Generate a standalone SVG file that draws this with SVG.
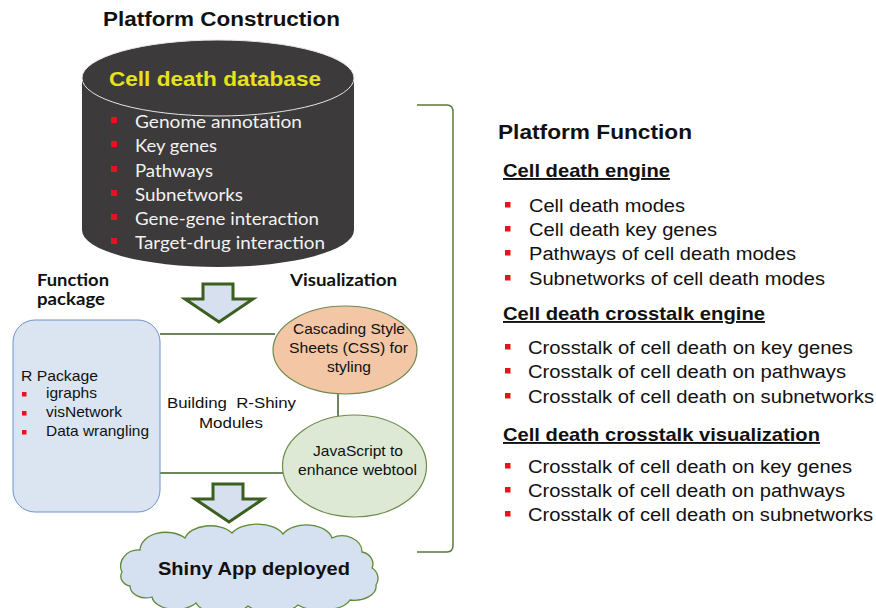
<svg xmlns="http://www.w3.org/2000/svg" width="876" height="608" viewBox="0 0 876 608">
<style>
.ar{font-family:"Liberation Sans",Arial,sans-serif;fill:#111}
.b{font-weight:bold}
.cal{font-family:Lato,"Open Sans",sans-serif}
.ci{font-family:Lato,"Open Sans",sans-serif;font-size:17.5px;fill:#f2f2f2}
.ri{font-family:"Liberation Sans",Arial,sans-serif;font-size:18px;fill:#111}
.rh{font-family:"Liberation Sans",Arial,sans-serif;font-size:19px;font-weight:bold;fill:#111;text-decoration:underline}
.sm{font-family:"Liberation Sans",Arial,sans-serif;font-size:15px;fill:#111}
.bul{fill:#e3141c}
.conn{stroke:#3e5e2a;stroke-width:1.5;fill:none}
.arrow{fill:#d6e0ee;stroke:#3a5f1f;stroke-width:3;stroke-linejoin:miter}
</style>
<rect width="876" height="608" fill="#ffffff"/>

<text class="ar b" x="103" y="26" font-size="19.5" textLength="237" lengthAdjust="spacingAndGlyphs">Platform Construction</text>

<g id="database">
  <path d="M82,78 L82,230 A136,37 0 0 0 354,230 L354,78 Z" fill="#3c3a3a"/>
  <ellipse cx="218" cy="78" rx="136" ry="38" fill="#3c3a3a" stroke="#e6e6e6" stroke-width="1"/>
  <text class="ar b" x="109" y="86" font-size="19.5" fill="#e5e31e" style="fill:#e5e31e" textLength="212" lengthAdjust="spacingAndGlyphs">Cell death database</text>
  <rect class="bul" x="111" y="117" width="6" height="6"/>
  <text class="ci" x="135" y="128" textLength="167" lengthAdjust="spacingAndGlyphs">Genome annotation</text>
  <rect class="bul" x="111" y="141" width="6" height="6"/>
  <text class="ci" x="135" y="152" textLength="82" lengthAdjust="spacingAndGlyphs">Key genes</text>
  <rect class="bul" x="111" y="166" width="6" height="6"/>
  <text class="ci" x="135" y="177" textLength="78" lengthAdjust="spacingAndGlyphs">Pathways</text>
  <rect class="bul" x="111" y="190" width="6" height="6"/>
  <text class="ci" x="135" y="201" textLength="108" lengthAdjust="spacingAndGlyphs">Subnetworks</text>
  <rect class="bul" x="111" y="214" width="6" height="6"/>
  <text class="ci" x="135" y="225" textLength="184" lengthAdjust="spacingAndGlyphs">Gene-gene interaction</text>
  <rect class="bul" x="111" y="238" width="6" height="6"/>
  <text class="ci" x="135" y="249" textLength="190" lengthAdjust="spacingAndGlyphs">Target-drug interaction</text>
</g>

<g id="labels">
  <text class="cal b" x="37" y="286" font-size="17.5" fill="#111" textLength="72" lengthAdjust="spacingAndGlyphs">Function</text>
  <text class="cal b" x="37" y="305" font-size="17.5" fill="#111" textLength="68" lengthAdjust="spacingAndGlyphs">package</text>
  <text class="cal b" x="290" y="286" font-size="17.5" fill="#111" textLength="107" lengthAdjust="spacingAndGlyphs">Visualization</text>
  <text class="sm" x="167" y="408" xml:space="preserve" textLength="129" lengthAdjust="spacingAndGlyphs">Building  R-Shiny</text>
  <text class="sm" x="199" y="428" textLength="64" lengthAdjust="spacingAndGlyphs">Modules</text>
</g>

<g id="connectors">
  <line class="conn" x1="160" y1="334" x2="275" y2="334"/>
  <line class="conn" x1="160" y1="473" x2="283" y2="473"/>
  <line class="conn" x1="338" y1="393" x2="338" y2="416"/>
  <path class="arrow" d="M203,284 L233,284 L233,299 L253,299 L219,322 L185,299 L203,299 Z"/>
  <path class="arrow" d="M213,484 L243,484 L243,499 L263,499 L229,522 L195,499 L213,499 Z"/>
  <path d="M417,105 L447,105 Q453,105 453,112 L453,545 Q453,552 447,552 L417,552" fill="none" stroke="#5a7a3a" stroke-width="1.5"/>
</g>

<g id="rpackage">
  <rect x="13" y="320" width="147" height="192" rx="22" ry="22" fill="#dae5f1" stroke="#6d90c6" stroke-width="1"/>
  <text class="sm" x="21" y="381" textLength="77" lengthAdjust="spacingAndGlyphs">R Package</text>
  <rect class="bul" x="22" y="392" width="4.5" height="4.5"/>
  <text class="sm" x="46" y="398" textLength="51" lengthAdjust="spacingAndGlyphs">igraphs</text>
  <rect class="bul" x="22" y="411" width="4.5" height="4.5"/>
  <text class="sm" x="46" y="417" textLength="76" lengthAdjust="spacingAndGlyphs">visNetwork</text>
  <rect class="bul" x="22" y="430" width="4.5" height="4.5"/>
  <text class="sm" x="46" y="436" textLength="103" lengthAdjust="spacingAndGlyphs">Data wrangling</text>
</g>

<g id="css">
  <ellipse cx="345" cy="350" rx="72" ry="44" fill="#f3c6a5" stroke="#6e8a4c" stroke-width="1.2"/>
  <text class="sm" x="293" y="334" textLength="112" lengthAdjust="spacingAndGlyphs">Cascading Style</text>
  <text class="sm" x="289" y="353" textLength="119" lengthAdjust="spacingAndGlyphs">Sheets (CSS) for</text>
  <text class="sm" x="327" y="372" textLength="44" lengthAdjust="spacingAndGlyphs">styling</text>
</g>

<g id="javascript">
  <ellipse cx="354.5" cy="466" rx="72" ry="51" fill="#dde9d5" stroke="#6e8a4c" stroke-width="1.2"/>
  <text class="sm" x="313" y="456" textLength="90" lengthAdjust="spacingAndGlyphs">JavaScript to</text>
  <text class="sm" x="298" y="475" textLength="119" lengthAdjust="spacingAndGlyphs">enhance webtool</text>
</g>

<g id="shinyapp">
  <path d="M122,572 A18,16 0 0 1 140,550 A26,18 0 0 1 185,538 A26,16 0 0 1 232,533 A28,16 0 0 1 283,534 A26,16 0 0 1 332,538 A20,16 0 0 1 362,552 A14,12 0 0 1 372,568 A12,12 0 0 1 376,585 A22,14 0 0 1 350,600 A30,14 0 0 1 298,605 A28,12 0 0 1 248,606 A28,14 0 0 1 196,603 A24,14 0 0 1 152,597 A16,12 0 0 1 130,586 A12,10 0 0 1 122,572 Z" fill="#d5e0f0" stroke="#5f8a3a" stroke-width="1.3"/>
  <text class="ar b" x="158" y="575" font-size="19" textLength="192" lengthAdjust="spacingAndGlyphs">Shiny App deployed</text>
</g>

<g id="platform-function">
  <text class="ar b" x="498" y="139" font-size="20" textLength="194" lengthAdjust="spacingAndGlyphs">Platform Function</text>

  <text class="rh" x="503" y="177" textLength="167" lengthAdjust="spacingAndGlyphs">Cell death engine</text>
  <rect class="bul" x="505" y="202" width="5.5" height="5.5"/>
  <text class="ri" x="529" y="212" textLength="156" lengthAdjust="spacingAndGlyphs">Cell death modes</text>
  <rect class="bul" x="505" y="226" width="5.5" height="5.5"/>
  <text class="ri" x="529" y="236" textLength="188" lengthAdjust="spacingAndGlyphs">Cell death key genes</text>
  <rect class="bul" x="505" y="250" width="5.5" height="5.5"/>
  <text class="ri" x="529" y="260" textLength="267" lengthAdjust="spacingAndGlyphs">Pathways of cell death modes</text>
  <rect class="bul" x="505" y="275" width="5.5" height="5.5"/>
  <text class="ri" x="529" y="285" textLength="296" lengthAdjust="spacingAndGlyphs">Subnetworks of cell death modes</text>

  <text class="rh" x="503" y="320" textLength="262" lengthAdjust="spacingAndGlyphs">Cell death crosstalk engine</text>
  <rect class="bul" x="505" y="344" width="5.5" height="5.5"/>
  <text class="ri" x="528" y="354" textLength="325" lengthAdjust="spacingAndGlyphs">Crosstalk of cell death on key genes</text>
  <rect class="bul" x="505" y="368" width="5.5" height="5.5"/>
  <text class="ri" x="528" y="378" textLength="318" lengthAdjust="spacingAndGlyphs">Crosstalk of cell death on pathways</text>
  <rect class="bul" x="505" y="393" width="5.5" height="5.5"/>
  <text class="ri" x="528" y="403" textLength="346" lengthAdjust="spacingAndGlyphs">Crosstalk of cell death on subnetworks</text>

  <text class="rh" x="503" y="441" textLength="317" lengthAdjust="spacingAndGlyphs">Cell death crosstalk visualization</text>
  <rect class="bul" x="505" y="463" width="5.5" height="5.5"/>
  <text class="ri" x="528" y="473" textLength="324" lengthAdjust="spacingAndGlyphs">Crosstalk of cell death on key genes</text>
  <rect class="bul" x="505" y="487" width="5.5" height="5.5"/>
  <text class="ri" x="528" y="497" textLength="317" lengthAdjust="spacingAndGlyphs">Crosstalk of cell death on pathways</text>
  <rect class="bul" x="505" y="511" width="5.5" height="5.5"/>
  <text class="ri" x="528" y="521" textLength="345" lengthAdjust="spacingAndGlyphs">Crosstalk of cell death on subnetworks</text>
</g>
</svg>
